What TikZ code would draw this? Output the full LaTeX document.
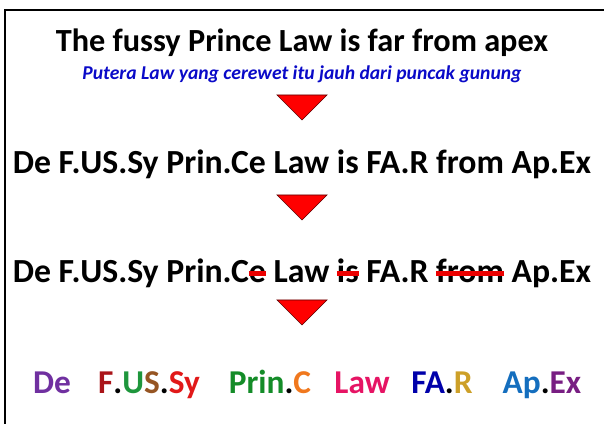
\documentclass[tikz,border=0pt]{standalone}
\usepackage{fontspec}
\setmainfont{Carlito}
\usepackage{xcolor}
\usepackage{tikz}

\definecolor{subblue}{RGB}{10,10,200}
\definecolor{strikered}{RGB}{235,0,0}
\definecolor{cDe}{RGB}{112,48,160}
\definecolor{cF}{RGB}{170,20,25}
\definecolor{cU}{RGB}{30,150,60}
\definecolor{cS}{RGB}{150,85,35}
\definecolor{cSy}{RGB}{225,25,25}
\definecolor{cPrin}{RGB}{20,140,40}
\definecolor{cC}{RGB}{240,120,30}
\definecolor{cLaw}{RGB}{230,20,100}
\definecolor{cFA}{RGB}{0,0,170}
\definecolor{cR}{RGB}{205,160,40}
\definecolor{cAp}{RGB}{20,110,190}
\definecolor{cEx}{RGB}{120,30,130}

\newcommand\redstrike[1]{\setbox0=\hbox{#1}\copy0\llap{\textcolor{strikered}{\rule[0.2em]{\wd0}{0.15em}}}}

\begin{document}
\begin{tikzpicture}[x=0.75pt,y=0.75pt,yscale=-1,xscale=1,
  bigline/.style={anchor=base,inner sep=0.75pt,font=\fontsize{25.3}{29}\selectfont\bfseries},
  syll/.style={anchor=base,inner sep=0.75pt,font=\fontsize{25}{29}\selectfont\bfseries},
  downtri/.style={fill=red,draw={rgb,255:red,90;green,0;blue,0},line width=0.5}]
    \useasboundingbox (0,0) rectangle (604,424);

    %Frame
    \draw [line width=1.5]  (5,430) -- (5,10) -- (610,10) ;

    % Text Node
    \node [bigline,font=\fontsize{24.2}{28}\selectfont\bfseries] (title) at (302,52) {The fussy Prince Law is far from apex};
    % Text Node
    \node [anchor=base,inner sep=0.75pt,font=\fontsize{14.7}{17}\selectfont\bfseries\itshape,text=subblue] (sub) at (302,80) {Putera Law yang cerewet itu jauh dari puncak gunung};

    %Triangle
    \draw [downtri]  (277,95) -- (327,95) -- (302,120) -- cycle ;

    % Text Node
    \node [bigline] (split) at (302,174) {De F.US.Sy Prin.Ce Law is FA.R from Ap.Ex};

    %Triangle
    \draw [downtri]  (277,195) -- (327,195) -- (302,220) -- cycle ;

    % Text Node
    \node [bigline] (cut) at (302,283) {De F.US.Sy Prin.C\redstrike{e} Law \redstrike{is} FA.R \redstrike{from} Ap.Ex};

    %Triangle
    \draw [downtri]  (277,300) -- (327,300) -- (302,325) -- cycle ;

    % Text Node
    \node [syll,text=cDe] (de) at (52,393) {De};
    % Text Node
    \node [syll] (fussy) at (149,393) {\textcolor{cF}{F}.\textcolor{cU}{U}\textcolor{cS}{S}.\textcolor{cSy}{Sy}};
    % Text Node
    \node [syll] (prince) at (270,393) {\textcolor{cPrin}{Prin}.\textcolor{cC}{C}};
    % Text Node
    \node [syll,text=cLaw] (law) at (362,393) {Law};
    % Text Node
    \node [syll] (far) at (442,393) {\textcolor{cFA}{FA}.\textcolor{cR}{R}};
    % Text Node
    \node [syll] (apex) at (542,393) {\textcolor{cAp}{Ap}.\textcolor{cEx}{Ex}};

\end{tikzpicture}
\end{document}
